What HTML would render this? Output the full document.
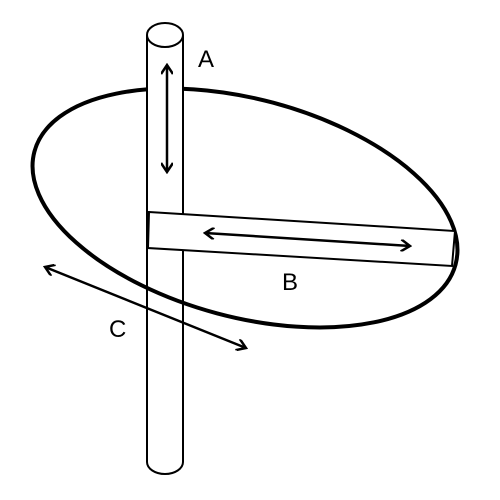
<!DOCTYPE html>
<html><head><meta charset="utf-8"><style>body{margin:0;background:#fff}svg{display:block}</style></head>
<body>
<svg width="500" height="500" viewBox="0 0 500 500" font-family="Liberation Sans, sans-serif">
<defs><marker id="ah" markerWidth="12" markerHeight="12" refX="10" refY="6" orient="auto-start-reverse" markerUnits="userSpaceOnUse"><path d="M1,0 L10,6 L1,12" fill="none" stroke="#000" stroke-width="2.5"/></marker></defs>
<path d="M147,35 L147,462 A18,12 0 0 0 183,462 L183,35" fill="#fff" stroke="#000" stroke-width="2"/>
<ellipse cx="245" cy="208" rx="218" ry="109" transform="rotate(15 245 208)" fill="none" stroke="#000" stroke-width="4"/>
<rect x="147" y="35" width="36" height="170" fill="#fff"/>
<line x1="147" y1="35" x2="147" y2="212" stroke="#000" stroke-width="2"/>
<line x1="183" y1="35" x2="183" y2="214" stroke="#000" stroke-width="2"/>
<ellipse cx="165" cy="35" rx="18" ry="12" fill="#fff" stroke="#000" stroke-width="2"/>
<polygon points="149,212 455,231 452,266 148,248" fill="#fff" stroke="#000" stroke-width="2"/>
<line x1="167" y1="65" x2="167" y2="172" stroke="#000" stroke-width="2.5" marker-start="url(#ah)" marker-end="url(#ah)"/>
<line x1="205" y1="233" x2="410" y2="246" stroke="#000" stroke-width="2.5" marker-start="url(#ah)" marker-end="url(#ah)"/>
<line x1="45" y1="267" x2="246" y2="348" stroke="#000" stroke-width="2.5" marker-start="url(#ah)" marker-end="url(#ah)"/>
<text x="198" y="67" font-size="24">A</text>
<text x="282" y="290" font-size="24">B</text>
<text x="109" y="337" font-size="24">C</text>
</svg>
</body></html>
